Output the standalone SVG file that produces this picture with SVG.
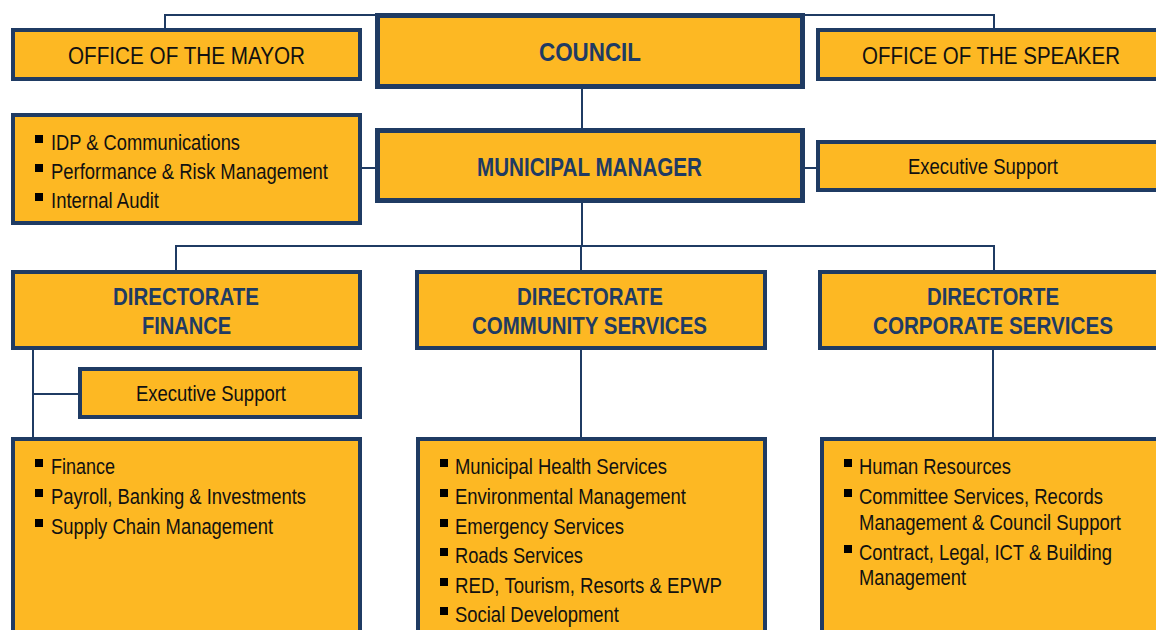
<svg xmlns="http://www.w3.org/2000/svg" width="1156" height="630" viewBox="0 0 1156 630">
<style>
.box{fill:#FDB823;stroke:#1F3B63;stroke-width:4}
.heavy{stroke-width:5}
.con{fill:none;stroke:#1F3B63;stroke-width:2}
text{font-family:"Liberation Sans Narrow","Liberation Sans",Arial,sans-serif}
.t{fill:#111;font-size:23.5px}
.s{fill:#111;font-size:21.5px}
.h{fill:#1F3B63;font-size:26.5px;font-weight:bold}
.d{fill:#1F3B63;font-size:24.5px;font-weight:bold}
.b{fill:#000}
</style>
<rect width="1156" height="630" fill="#fff"/>
<g id="connectors">
<path class="con" d="M165 29 V15 H994 V29"/>
<path class="con" d="M582 88 V129"/>
<path class="con" d="M361 168 H377"/>
<path class="con" d="M803 168 H817"/>
<path class="con" d="M582 202 V246"/>
<path class="con" d="M176 271 V246 H994 V271"/>
<path class="con" d="M581 246 V271"/>
<path class="con" d="M581 349 V438"/>
<path class="con" d="M993 349 V438"/>
<path class="con" d="M33 349 V438"/>
<path class="con" d="M33 394 H79"/>
</g>
<g id="mayor">
<rect class="box" x="13" y="30" width="347" height="49"/>
<text class="t" x="68" y="63.5" textLength="237" lengthAdjust="spacingAndGlyphs">OFFICE OF THE MAYOR</text>
</g>
<g id="council">
<rect class="box heavy" x="377.5" y="15.5" width="425" height="71"/>
<text class="h" x="539" y="61" textLength="102" lengthAdjust="spacingAndGlyphs">COUNCIL</text>
</g>
<g id="speaker">
<rect class="box" x="818" y="30" width="350" height="49"/>
<text class="t" x="862" y="63.5" textLength="258" lengthAdjust="spacingAndGlyphs">OFFICE OF THE SPEAKER</text>
</g>
<g id="mm-support">
<rect class="box" x="13" y="115" width="347" height="108"/>
<rect class="b" x="35" y="135" width="8" height="8"/>
<text class="s" x="51" y="149.5" textLength="189" lengthAdjust="spacingAndGlyphs">IDP &amp; Communications</text>
<rect class="b" x="35" y="164" width="8" height="8"/>
<text class="s" x="51" y="178.5" textLength="277" lengthAdjust="spacingAndGlyphs">Performance &amp; Risk Management</text>
<rect class="b" x="35" y="193" width="8" height="8"/>
<text class="s" x="51" y="207.5" textLength="108" lengthAdjust="spacingAndGlyphs">Internal Audit</text>
</g>
<g id="municipal-manager">
<rect class="box heavy" x="377.5" y="130.5" width="425" height="70"/>
<text class="h" x="477" y="176" textLength="225" lengthAdjust="spacingAndGlyphs">MUNICIPAL MANAGER</text>
</g>
<g id="mm-exec-support">
<rect class="box" x="818" y="142" width="350" height="48"/>
<text class="s" x="908" y="173.5" textLength="150" lengthAdjust="spacingAndGlyphs">Executive Support</text>
</g>
<g id="dir-finance">
<rect class="box" x="13" y="272" width="347" height="76"/>
<text class="d" x="113" y="305" textLength="146" lengthAdjust="spacingAndGlyphs">DIRECTORATE</text>
<text class="d" x="142" y="334" textLength="89" lengthAdjust="spacingAndGlyphs">FINANCE</text>
</g>
<g id="dir-community">
<rect class="box" x="417" y="272" width="348" height="76"/>
<text class="d" x="517" y="305" textLength="146" lengthAdjust="spacingAndGlyphs">DIRECTORATE</text>
<text class="d" x="472" y="333.5" textLength="235" lengthAdjust="spacingAndGlyphs">COMMUNITY SERVICES</text>
</g>
<g id="dir-corporate">
<rect class="box" x="820" y="272" width="350" height="76"/>
<text class="d" x="927" y="305" textLength="132" lengthAdjust="spacingAndGlyphs">DIRECTORTE</text>
<text class="d" x="873" y="333.5" textLength="240" lengthAdjust="spacingAndGlyphs">CORPORATE SERVICES</text>
</g>
<g id="fin-exec-support">
<rect class="box" x="80" y="369" width="280" height="48"/>
<text class="s" x="136" y="401" textLength="150" lengthAdjust="spacingAndGlyphs">Executive Support</text>
</g>
<g id="fin-units">
<rect class="box" x="13" y="439" width="347" height="200"/>
<rect class="b" x="35" y="459" width="8" height="8"/>
<text class="s" x="51" y="473.5" textLength="64" lengthAdjust="spacingAndGlyphs">Finance</text>
<rect class="b" x="35" y="489" width="8" height="8"/>
<text class="s" x="51" y="503.5" textLength="255" lengthAdjust="spacingAndGlyphs">Payroll, Banking &amp; Investments</text>
<rect class="b" x="35" y="519" width="8" height="8"/>
<text class="s" x="51" y="533.5" textLength="222" lengthAdjust="spacingAndGlyphs">Supply Chain Management</text>
</g>
<g id="community-units">
<rect class="box" x="418" y="439" width="347" height="200"/>
<rect class="b" x="440" y="459" width="8" height="8"/>
<text class="s" x="455" y="473.5" textLength="212" lengthAdjust="spacingAndGlyphs">Municipal Health Services</text>
<rect class="b" x="440" y="489" width="8" height="8"/>
<text class="s" x="455" y="503.5" textLength="231" lengthAdjust="spacingAndGlyphs">Environmental Management</text>
<rect class="b" x="440" y="519" width="8" height="8"/>
<text class="s" x="455" y="533.5" textLength="169" lengthAdjust="spacingAndGlyphs">Emergency Services</text>
<rect class="b" x="440" y="548" width="8" height="8"/>
<text class="s" x="455" y="563" textLength="128" lengthAdjust="spacingAndGlyphs">Roads Services</text>
<rect class="b" x="440" y="578" width="8" height="8"/>
<text class="s" x="455" y="592.5" textLength="267" lengthAdjust="spacingAndGlyphs">RED, Tourism, Resorts &amp; EPWP</text>
<rect class="b" x="440" y="607" width="8" height="8"/>
<text class="s" x="455" y="622" textLength="164" lengthAdjust="spacingAndGlyphs">Social Development</text>
</g>
<g id="corporate-units">
<rect class="box" x="822" y="439" width="350" height="200"/>
<rect class="b" x="844" y="459" width="8" height="8"/>
<text class="s" x="859" y="473.5" textLength="152" lengthAdjust="spacingAndGlyphs">Human Resources</text>
<rect class="b" x="844" y="489" width="8" height="8"/>
<text class="s" x="859" y="503.5" textLength="244" lengthAdjust="spacingAndGlyphs">Committee Services, Records</text>
<text class="s" x="859" y="529.5" textLength="262" lengthAdjust="spacingAndGlyphs">Management &amp; Council Support</text>
<rect class="b" x="844" y="545" width="8" height="8"/>
<text class="s" x="859" y="559.5" textLength="253" lengthAdjust="spacingAndGlyphs">Contract, Legal, ICT &amp; Building</text>
<text class="s" x="859" y="584.5" textLength="107" lengthAdjust="spacingAndGlyphs">Management</text>
</g>
</svg>
